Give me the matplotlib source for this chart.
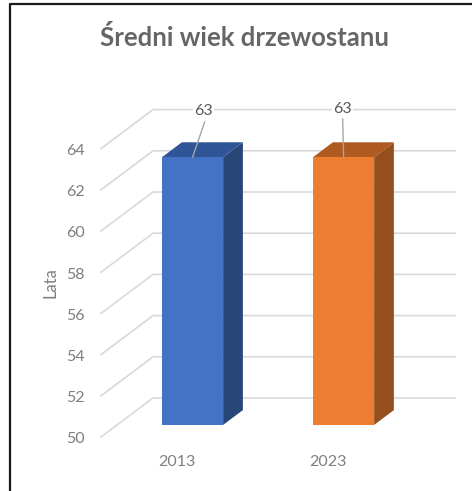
import matplotlib
matplotlib.use('Agg')
import matplotlib.pyplot as plt
from matplotlib.patches import Polygon

categories = ['2013', '2023']
values = [63, 63]
y_ticks = [50, 52, 54, 56, 58, 60, 62, 64]
title = 'Średni wiek drzewostanu'
y_label = 'Lata'

front_colors = ['#4472C4', '#ED7D31']
top_colors = ['#2F5597', '#AE5A21']
side_colors = ['#294679', '#964F1C']

W, H = 472, 491
PX_CAT = 151.0   # pixels per category step
PX_VAL = 20.6    # pixels per axis unit
DEPTH_X = 52 / PX_CAT   # full floor depth, in data units
DEPTH_Y = 39 / PX_VAL
BAR_W = 0.404
BAR_D0, BAR_D1 = 0.31, 0.69  # bar front and back, as a share of the depth
FONT = 'Lato'


def proj(cat, val, depth):
    # oblique projection of the 3D box onto the flat axes
    return cat + depth * DEPTH_X, val + depth * DEPTH_Y


def box(cat, val, base=50):
    x0, x1 = cat - BAR_W / 2, cat + BAR_W / 2
    front = [proj(x0, base, BAR_D0), proj(x1, base, BAR_D0),
             proj(x1, val, BAR_D0), proj(x0, val, BAR_D0)]
    side = [proj(x1, base, BAR_D0), proj(x1, base, BAR_D1),
            proj(x1, val, BAR_D1), proj(x1, val, BAR_D0)]
    top = [proj(x0, val, BAR_D0), proj(x1, val, BAR_D0),
           proj(x1, val, BAR_D1), proj(x0, val, BAR_D1)]
    return front, side, top


fig = plt.figure(figsize=(W / 100, H / 100), dpi=100)
ax = fig.add_axes([0, 0, 1, 1])
ax.set_xlim(-176.5 / PX_CAT, (W - 176.5) / PX_CAT)
ax.set_ylim(50 - (H - 437) / PX_VAL, 50 + 437 / PX_VAL)
ax.axis('off')

# frame of the pasted chart, only top and left are in the crop
fig.add_artist(plt.Line2D([9.5 / W, 9.5 / W, 1], [0, 1 - 3.5 / H, 1 - 3.5 / H],
                          color='#1a1a1a', lw=1.6, transform=fig.transFigure))

# gridlines: side wall slant + back wall
for t in y_ticks:
    a = proj(-0.5, t, 0)
    b = proj(-0.5, t, 1)
    c = proj(1.5, t, 1)
    ax.plot([a[0], b[0], c[0]], [a[1], b[1], c[1]], color='#D9D9D9', lw=1.2, zorder=1)
    # nudge down, Lato sits a bit high with va=center
    ax.text(-0.5 - 16 / PX_CAT, t - 2.5 / PX_VAL, str(t), ha='right', va='center', fontsize=11.5,
            color='#7f7f7f', family=FONT)

for i, (cat, val) in enumerate(zip(categories, values)):
    front, side, top = box(i, val)
    ax.add_patch(Polygon(side, facecolor=side_colors[i], edgecolor='none', zorder=3))
    ax.add_patch(Polygon(top, facecolor=top_colors[i], edgecolor='none', zorder=3))
    ax.add_patch(Polygon(front, facecolor=front_colors[i], edgecolor='none', zorder=4))
    ax.text(i, 48.8, cat, ha='center', va='center', fontsize=11.5, color='#7f7f7f',
            family=FONT)

# data labels with leader lines
leader_dx = [12 / PX_CAT, -1 / PX_CAT]
leader_dy = [35 / PX_VAL, 38 / PX_VAL]
label_dx = [11 / PX_CAT, -1 / PX_CAT]
label_dy = [46 / PX_VAL, 48 / PX_VAL]
for i, val in enumerate(values):
    bx, by = proj(i, val, BAR_D0)
    ax.plot([bx, bx + leader_dx[i]], [by, by + leader_dy[i]], color='#A6A6A6', lw=1, zorder=5)
    ax.text(bx + label_dx[i], by + label_dy[i], str(val), ha='center', va='center',
            fontsize=11.5, color='#595959', family=FONT, zorder=6,
            bbox=dict(facecolor='white', edgecolor='none', pad=1))

ax.text(-0.5 - 51 / PX_CAT, 57.5, y_label, rotation=90, ha='center', va='center', fontsize=12,
        color='#7f7f7f', family=FONT)
fig.text(245 / W, 1 - 37 / H, title, ha='center', va='center', fontsize=18.5, fontweight='bold',
         color='#666666', family=FONT)

fig.savefig('out.png', dpi=100)
